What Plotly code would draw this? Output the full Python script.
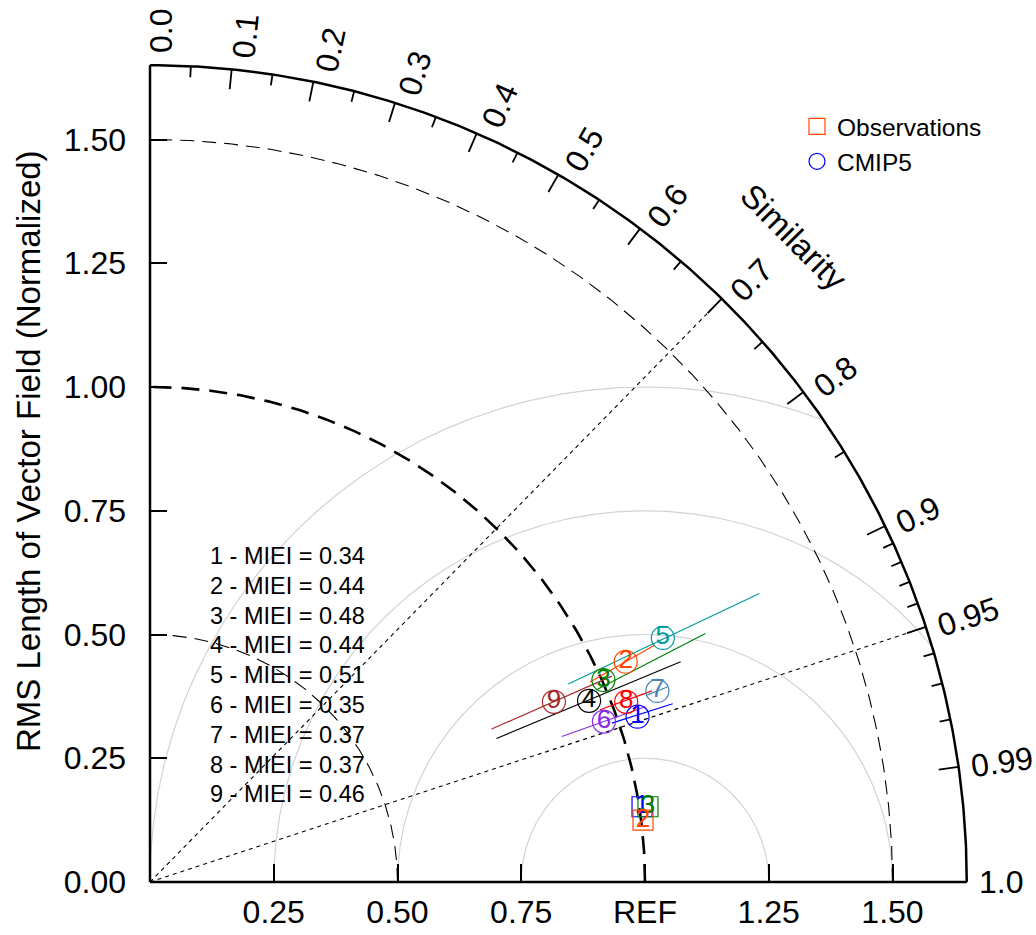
import numpy as np
import plotly.graph_objects as go

# ---------------- data ----------------
model_ids = ["1", "2", "3", "4", "5", "6", "7", "8", "9"]
model_colors = ["#0000FF", "#FF4500", "#008000", "#000000", "#009B9B",
                "#8A2BE2", "#4682B4", "#FF0000", "#A52A2A"]
miei = [0.34, 0.44, 0.48, 0.44, 0.51, 0.35, 0.37, 0.37, 0.46]

cmip5_x = [0.985, 0.961, 0.916, 0.887, 1.036, 0.917, 1.025, 0.962, 0.816]
cmip5_y = [0.334, 0.445, 0.408, 0.366, 0.493, 0.324, 0.386, 0.364, 0.364]

seg_x_start = [0.933, 0.889, 0.901, 0.700, 0.845, 0.832, 1.005, 0.909, 0.690]
seg_y_start = [0.321, 0.404, 0.388, 0.290, 0.400, 0.294, 0.378, 0.348, 0.309]
seg_x_end = [1.056, 1.020, 1.122, 1.072, 1.231, 1.001, 1.045, 1.014, 0.933]
seg_y_end = [0.360, 0.479, 0.502, 0.445, 0.583, 0.354, 0.394, 0.386, 0.416]

obs_ids = ["1", "3", "2"]
obs_colors = ["#0000FF", "#008000", "#FF4500"]
obs_x = [0.994, 1.006, 0.996]
obs_y = [0.152, 0.152, 0.125]

sim_major = [0.0, 0.1, 0.2, 0.3, 0.4, 0.5, 0.6, 0.7, 0.8, 0.9, 0.95, 0.99, 1.0]
sim_major_labels = ["0.0", "0.1", "0.2", "0.3", "0.4", "0.5", "0.6", "0.7",
                    "0.8", "0.9", "0.95", "0.99", "1.0"]
sim_minor = [0.05, 0.15, 0.25, 0.35, 0.45, 0.55, 0.65, 0.75, 0.85,
             0.91, 0.92, 0.93, 0.94, 0.96, 0.97, 0.98]
sim_ref_lines = [0.7, 0.95]
rms_arcs_thin = [0.5, 1.5]
rms_arc_ref = [1.0]
crms_arcs = [0.25, 0.5, 0.75, 1.0]

y_tick_vals = [0.0, 0.25, 0.5, 0.75, 1.0, 1.25, 1.5]
y_tick_text = ["0.00", "0.25", "0.50", "0.75", "1.00", "1.25", "1.50"]
x_tick_vals = [0.25, 0.5, 0.75, 1.0, 1.25, 1.5]
x_tick_text = ["0.25", "0.50", "0.75", "REF", "1.25", "1.50"]

# ---------------- layout constants ----------------
W, H = 1036, 935
PPU = 495.0                   # pixels per data unit
X0_PX, Y0_PX = 150, 882
R_OUT = 1.65
FONT = "Liberation Sans, Arial, Helvetica, sans-serif"
x_range = [-X0_PX / PPU, (W - X0_PX) / PPU]
y_range = [-(H - Y0_PX) / PPU, Y0_PX / PPU]

fig = go.Figure()

def add_line(xs, ys, color, width, dash="solid"):
    fig.add_trace(go.Scatter(x=xs, y=ys, mode="lines", showlegend=False,
                             hoverinfo="skip",
                             line=dict(color=color, width=width, dash=dash)))

# grey arcs centred on REF
gx, gy = [], []
phi = np.linspace(0, np.pi, 600)
for rr in crms_arcs:
    cx = 1.0 + rr * np.cos(phi)
    cy = rr * np.sin(phi)
    inside = np.hypot(cx, cy) <= R_OUT
    gx += list(np.where(inside, cx, np.nan)) + [None]
    gy += list(np.where(inside, cy, np.nan)) + [None]
add_line(gx, gy, "#D3D3D3", 1.2)

# RMS arcs centred on origin
th = np.linspace(0, np.pi / 2, 300)
ax_, ay_ = [], []
for r in rms_arcs_thin:
    ax_ += list(r * np.cos(th)) + [None]
    ay_ += list(r * np.sin(th)) + [None]
add_line(ax_, ay_, "black", 1.1, "14px,8px")
for r in rms_arc_ref:
    add_line(list(r * np.cos(th)), list(r * np.sin(th)), "black", 2.6, "18px,10px")

# dotted similarity reference lines
dx, dy = [], []
for s in sim_ref_lines:
    t = np.arccos(s)
    dx += [0, R_OUT * np.cos(t), None]
    dy += [0, R_OUT * np.sin(t), None]
add_line(dx, dy, "black", 1.1, "4px,4px")

# outer arc and axes lines
add_line(list(R_OUT * np.cos(th)), list(R_OUT * np.sin(th)), "black", 2.5)
add_line([0, 0, None, 0, R_OUT], [0, R_OUT, None, 0, 0], "black", 2.5)

# ticks on the similarity arc
def arc_ticks(vals, length_px):
    xs, ys = [], []
    for s in vals:
        t = np.arccos(s)
        r1 = R_OUT - length_px / PPU
        xs += [R_OUT * np.cos(t), r1 * np.cos(t), None]
        ys += [R_OUT * np.sin(t), r1 * np.sin(t), None]
    return xs, ys
mx, my = arc_ticks(sim_major, 20)
add_line(mx, my, "black", 1.8)
nx, ny = arc_ticks(sim_minor, 11)
add_line(nx, ny, "black", 1.8)

# model segments
for i in range(len(model_ids)):
    add_line([seg_x_start[i], seg_x_end[i]], [seg_y_start[i], seg_y_end[i]],
             model_colors[i], 1.2)

# CMIP5 circles with numbers
fig.add_trace(go.Scatter(
    x=cmip5_x, y=cmip5_y, mode="markers+text", text=model_ids,
    textposition="middle center", showlegend=False, hoverinfo="skip",
    textfont=dict(family=FONT, size=26, color=model_colors),
    marker=dict(symbol="circle-open", size=23, color=model_colors,
                line=dict(width=1.2, color=model_colors))))

# observation squares with numbers
fig.add_trace(go.Scatter(
    x=obs_x, y=obs_y, mode="markers+text", text=obs_ids,
    textposition="middle center", showlegend=False, hoverinfo="skip",
    textfont=dict(family=FONT, size=26, color=obs_colors),
    marker=dict(symbol="square-open", size=20, color=obs_colors,
                line=dict(width=1.2, color=obs_colors))))

# legend entries
fig.add_trace(go.Scatter(x=[None], y=[None], mode="markers", name="Observations",
                         marker=dict(symbol="square-open", size=22, color="#FF4500",
                                     line=dict(width=1.2))))
fig.add_trace(go.Scatter(x=[None], y=[None], mode="markers", name="CMIP5",
                         marker=dict(symbol="circle-open", size=22, color="#0000FF",
                                     line=dict(width=1.2))))

annotations = []

# similarity labels
def text_w(s, fs):
    return sum(0.278 * fs if c == "." else 0.556 * fs for c in s)
SIM_FS = 32
for s, lab in zip(sim_major, sim_major_labels):
    t = np.arccos(s)
    rc = R_OUT + (12 + text_w(lab, SIM_FS) / 2) / PPU
    off = 11 * np.sin(t) / PPU
    px = rc * np.cos(t) + off * np.sin(t)
    py = rc * np.sin(t) - off * np.cos(t)
    annotations.append(dict(x=px, y=py, xref="x", yref="y", text=lab,
                            showarrow=False, textangle=-np.degrees(t),
                            xanchor="center", yanchor="middle",
                            font=dict(family=FONT, size=SIM_FS, color="black")))

annotations.append(dict(x=1.302, y=1.303, xref="x", yref="y", text="Similarity",
                        showarrow=False, textangle=45, xanchor="center",
                        yanchor="middle",
                        font=dict(family=FONT, size=33, color="black")))

# y axis title
annotations.append(dict(x=(28 - X0_PX) / PPU, y=(Y0_PX - 451) / PPU, xref="x", yref="y",
                        text="RMS Length of Vector Field (Normalized)",
                        showarrow=False, textangle=-90, xanchor="center",
                        yanchor="middle",
                        font=dict(family=FONT, size=33, color="black")))

# MIEI list
miei_x = 58 / PPU
miei_top = 326 / PPU
miei_step = 29.8 / PPU
for i, (mid, v) in enumerate(zip(model_ids, miei)):
    annotations.append(dict(x=miei_x, y=miei_top - i * miei_step, xref="x", yref="y",
                            text=f"{mid} - MIEI = {v:.2f}", showarrow=False,
                            xanchor="left", yanchor="middle",
                            font=dict(family=FONT, size=23.5, color="black")))

fig.update_layout(
    width=W, height=H, autosize=False,
    margin=dict(l=0, r=0, t=0, b=0, pad=0),
    plot_bgcolor="white", paper_bgcolor="white",
    font=dict(family=FONT, color="black"),
    annotations=annotations,
    showlegend=True,
    legend=dict(x=797 / W, y=1 - 104 / H,
                xanchor="left", yanchor="top",
                bgcolor="rgba(0,0,0,0)", font=dict(family=FONT, size=24.5),
                itemsizing="trace", tracegroupgap=0),
    xaxis=dict(range=x_range, anchor="free", position=(H - Y0_PX) / H,
               showgrid=False, zeroline=False, showline=False,
               ticks="inside", ticklen=18, tickwidth=1.8, tickcolor="black",
               tickvals=x_tick_vals, ticktext=x_tick_text,
               tickfont=dict(family=FONT, size=32, color="black"),
               ticklabelstandoff=8, fixedrange=True),
    yaxis=dict(range=y_range, anchor="free", position=X0_PX / W,
               showgrid=False, zeroline=False, showline=False,
               ticks="inside", ticklen=16, tickwidth=1.8, tickcolor="black",
               tickvals=y_tick_vals, ticktext=y_tick_text,
               tickfont=dict(family=FONT, size=32, color="black"),
               ticklabelstandoff=24, fixedrange=True),
)

fig.write_html(
    "out.html",
    config={"displayModeBar": False},
    post_script="document.body.style.margin='0';document.body.style.overflow='hidden';",
)
